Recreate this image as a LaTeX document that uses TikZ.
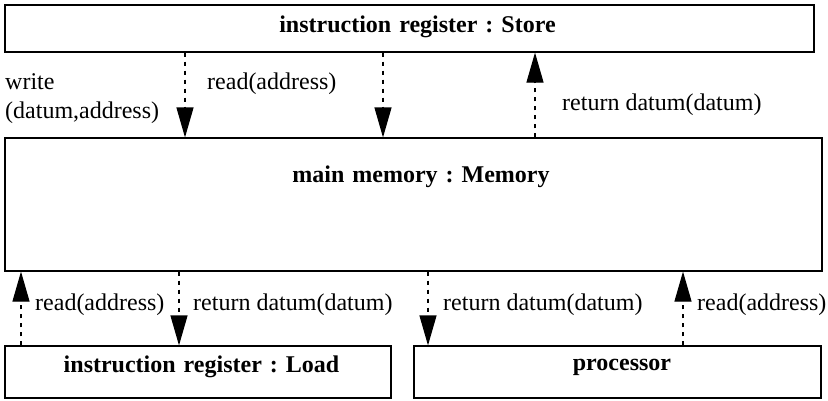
\documentclass[tikz,border=0pt]{standalone}
\usepackage{fontspec}
\setmainfont{Liberation Serif}
\usetikzlibrary{arrows.meta}
\newcommand\dgfont{\fontsize{24}{29}\selectfont\frenchspacing}
\begin{document}
\begin{tikzpicture}[x=1pt,y=-1pt,
  every node/.style={font=\dgfont},
  box/.style={draw, line width=1.2pt, rectangle, inner sep=0pt,
              font=\dgfont\bfseries, align=center},
  msg/.style={line width=1.2pt, dash pattern=on 4pt off 5pt,
              -{Triangle[length=30pt,width=17pt]}},
  lbl/.style={inner sep=0pt, anchor=base west}
]
\useasboundingbox (0,0) rectangle (828,400);

% objects
\node[box, text width=809pt, text height=27pt, text depth=20pt]
  (store) at (409.5,28.5) {\hspace*{16pt}instruction register : Store};
\node[box, text width=817pt, text height=44pt, text depth=89pt]
  (mem) at (413.5,204.5) {\hspace*{15pt}main memory : Memory};
\node[box, text width=386pt, text height=26pt, text depth=26pt]
  (load) at (198,372) {\hspace*{7pt}instruction register : Load};
\node[box, text width=407pt, text height=24pt, text depth=28pt]
  (proc) at (617.5,372) {\hspace*{9pt}processor};

% x positions of the message lines
\coordinate (c1) at (185,0);
\coordinate (c2) at (383,0);
\coordinate (c3) at (535,0);
\coordinate (c4) at (21,0);
\coordinate (c5) at (179,0);
\coordinate (c6) at (428,0);
\coordinate (c7) at (683,0);

% messages between store and memory
\draw[msg] (store.south -| c1) -- (mem.north -| c1);
\draw[msg] (store.south -| c2) -- (mem.north -| c2);
\draw[msg] (mem.north -| c3) -- (store.south -| c3);

% messages between memory and the lower objects
\draw[msg] (load.north -| c4) -- (mem.south -| c4);
\draw[msg] (mem.south -| c5) -- (load.north -| c5);
\draw[msg] (mem.south -| c6) -- (proc.north -| c6);
\draw[msg] (proc.north -| c7) -- (mem.south -| c7);

% message labels
\node[lbl, align=left] (lw) at (5,118) {write\\(datum,address)};
\node[lbl] (lr1) at (207,89) {read(address)};
\node[lbl] (lt1) at (562,110) {return datum(datum)};
\node[lbl] (lr2) at (35,310) {read(address)};
\node[lbl] (lt2) at (193,310) {return datum(datum)};
\node[lbl] (lt3) at (443,310) {return datum(datum)};
\node[lbl] (lr3) at (697,310) {read(address)};
\end{tikzpicture}
\end{document}
